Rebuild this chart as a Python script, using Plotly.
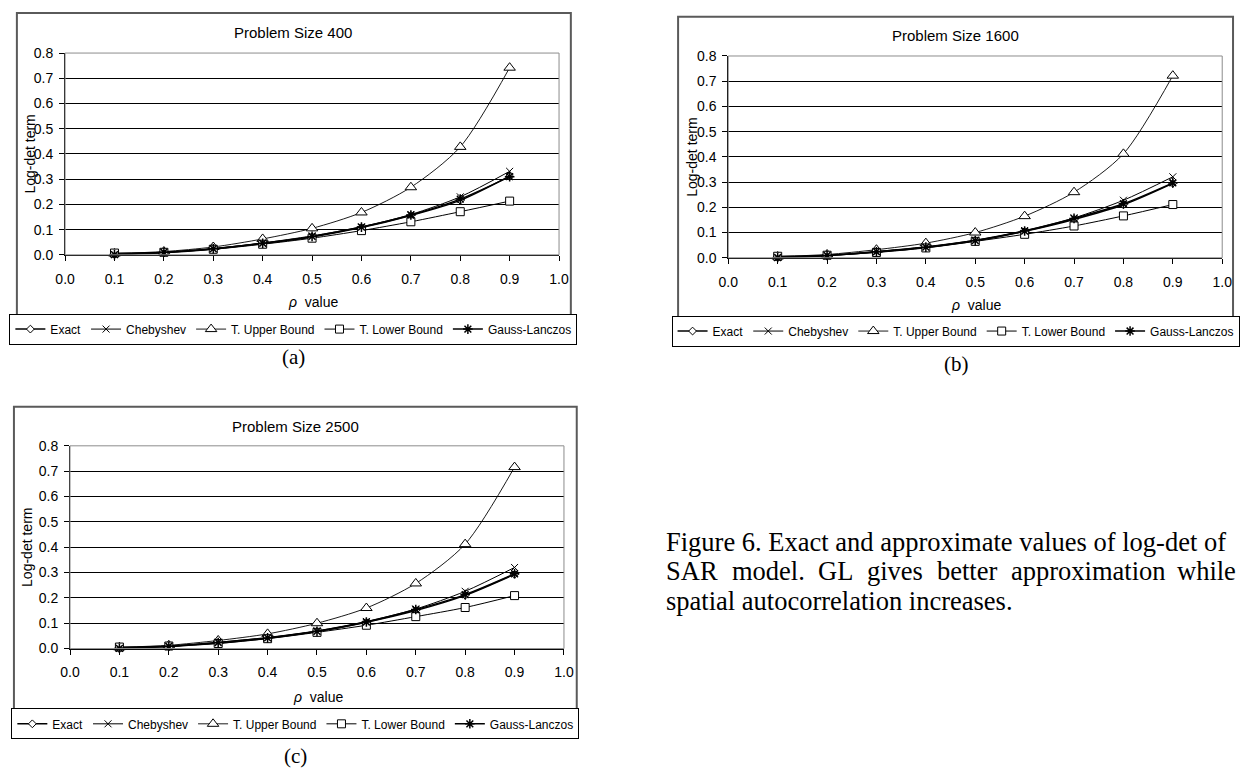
import plotly.graph_objects as go

W, H = 1245, 779

# ---------------- data ----------------
rho = [0.1, 0.2, 0.3, 0.4, 0.5, 0.6, 0.7, 0.8, 0.9]
series_names = ["Exact", "Chebyshev", "T. Upper Bound", "T. Lower Bound", "Gauss-Lanczos"]
panel_titles = ["Problem Size 400", "Problem Size 1600", "Problem Size 2500"]
panel_labels = ["(a)", "(b)", "(c)"]
x_ticks = [0.0, 0.1, 0.2, 0.3, 0.4, 0.5, 0.6, 0.7, 0.8, 0.9, 1.0]
y_ticks = [0.0, 0.1, 0.2, 0.3, 0.4, 0.5, 0.6, 0.7, 0.8]

exact_400 = [0.001, 0.008, 0.023, 0.045, 0.071, 0.108, 0.156, 0.216, 0.312]
cheb_400 = [0.001, 0.010, 0.025, 0.047, 0.075, 0.111, 0.160, 0.230, 0.331]
upper_400 = [0.005, 0.013, 0.031, 0.063, 0.105, 0.168, 0.268, 0.428, 0.742]
lower_400 = [0.007, 0.010, 0.022, 0.042, 0.066, 0.096, 0.131, 0.171, 0.213]
gl_400 = [0.001, 0.010, 0.024, 0.046, 0.073, 0.110, 0.158, 0.221, 0.310]

exact_1600 = [0.001, 0.008, 0.023, 0.041, 0.067, 0.105, 0.152, 0.210, 0.295]
cheb_1600 = [0.001, 0.010, 0.025, 0.044, 0.070, 0.108, 0.158, 0.228, 0.321]
upper_1600 = [0.005, 0.013, 0.032, 0.058, 0.100, 0.165, 0.260, 0.412, 0.722]
lower_1600 = [0.006, 0.010, 0.021, 0.039, 0.065, 0.093, 0.126, 0.166, 0.211]
gl_1600 = [0.001, 0.009, 0.024, 0.042, 0.068, 0.106, 0.156, 0.214, 0.297]

exact_2500 = [0.001, 0.008, 0.022, 0.041, 0.067, 0.104, 0.150, 0.210, 0.293]
cheb_2500 = [0.001, 0.010, 0.025, 0.044, 0.070, 0.107, 0.156, 0.226, 0.320]
upper_2500 = [0.005, 0.013, 0.032, 0.058, 0.100, 0.160, 0.257, 0.412, 0.716]
lower_2500 = [0.006, 0.010, 0.020, 0.039, 0.064, 0.092, 0.126, 0.162, 0.209]
gl_2500 = [0.001, 0.009, 0.024, 0.042, 0.068, 0.105, 0.154, 0.213, 0.295]

panels_data = [
    [exact_400, cheb_400, upper_400, lower_400, gl_400],
    [exact_1600, cheb_1600, upper_1600, lower_1600, gl_1600],
    [exact_2500, cheb_2500, upper_2500, lower_2500, gl_2500],
]

caption_line1 = "Figure 6. Exact and approximate values of log-det of"
caption_line2_words = ["SAR", "model.", "GL", "gives", "better", "approximation", "while"]
caption_line3 = "spatial autocorrelation increases."

# ---------------- styling / layout (pixels) ----------------
SANS = "Liberation Sans, Arial, sans-serif"
SERIF = "Liberation Serif, Times New Roman, serif"

def px(x):
    return x / W

def py(y):
    return 1 - y / H

panels = [
    dict(box=(7, 5, 570, 339), plot=(56, 46, 558, 252), title=(288, 25), ytx=20,
         xt=(308, 300), leg=(288, 312), lab=(288, 356)),
    dict(box=(679, 9, 1243, 341), plot=(730, 49, 1232, 255), title=(961, 28), ytx=693,
         xt=(982, 303), leg=(961, 314), lab=(962, 363)),
    dict(box=(4, 407, 576, 743), plot=(61, 447, 563, 654), title=(290, 427), ytx=17,
         xt=(313, 703), leg=(290, 715), lab=(290, 764)),
]

marker_specs = [
    dict(symbol="diamond", size=6, color="white", line=dict(color="black", width=1)),
    dict(symbol="x-thin", size=7, color="black", line=dict(color="black", width=1)),
    dict(symbol="triangle-up", size=10, color="white", line=dict(color="black", width=1)),
    dict(symbol="square", size=8, color="white", line=dict(color="black", width=1)),
    dict(symbol="asterisk", size=8, color="black", line=dict(color="black", width=1.5)),
]
line_widths = [1.5, 1, 0.9, 1, 1.5]

fig = go.Figure()
shapes = []
annotations = []
layout_axes = {}
legends = {}


def add_text(text, x, y, font, xanchor="center", yanchor="middle", angle=0):
    annotations.append(dict(text=text, x=px(x), y=py(y), xref="paper", yref="paper",
                            xanchor=xanchor, yanchor=yanchor, showarrow=False,
                            textangle=angle, font=font))


for i, (pan, data) in enumerate(zip(panels, panels_data)):
    sfx = "" if i == 0 else str(i + 1)
    xa, ya = "x" + sfx, "y" + sfx
    leg_name = "legend" + sfx
    for j, (name, vals) in enumerate(zip(series_names, data)):
        fig.add_trace(go.Scatter(
            x=rho, y=vals, name=name, mode="lines+markers",
            line=dict(color="black", width=line_widths[j], shape="spline", smoothing=0.8),
            marker=marker_specs[j], xaxis=xa, yaxis=ya, legend=leg_name,
            showlegend=True, cliponaxis=False,
        ))
    l, t, r, b = pan["plot"]
    layout_axes["xaxis" + sfx] = dict(
        domain=[px(l), px(r)], range=[0, 1.0], anchor=ya, tickvals=x_ticks,
        tickformat=".1f", ticks="outside", ticklen=5, tickcolor="black",
        showline=True, linecolor="black", linewidth=1, showgrid=False, zeroline=False,
        tickfont=dict(family=SANS, size=14, color="black"), ticklabelstandoff=6,
    )
    layout_axes["yaxis" + sfx] = dict(
        domain=[py(b), py(t)], range=[0, 0.8], anchor=xa, tickvals=y_ticks,
        tickformat=".1f", ticks="outside", ticklen=5, tickcolor="black",
        showline=True, linecolor="black", linewidth=1, showgrid=True,
        gridcolor="black", gridwidth=1, zeroline=False,
        tickfont=dict(family=SANS, size=14, color="black"), ticklabelstandoff=3,
    )
    shapes.append(dict(type="rect", xref=xa + " domain", yref=ya + " domain",
                       x0=0, x1=1, y0=0, y1=1, line=dict(color="#8c8c8c", width=1),
                       layer="above"))
    bl, bt, br, bb = pan["box"]
    shapes.append(dict(type="rect", xref="paper", yref="paper",
                       x0=px(bl), x1=px(br), y0=py(bb), y1=py(bt),
                       line=dict(color="#5a5a5a", width=2), layer="below"))
    add_text(panel_titles[i], pan["title"][0], pan["title"][1],
             dict(family=SANS, size=15, color="black"))
    add_text("Log-det term", pan["ytx"], (t + b) / 2,
             dict(family=SANS, size=14, color="black"), angle=-90)
    add_text("<i>\u03c1</i>\u00a0\u00a0value", pan["xt"][0], pan["xt"][1],
             dict(family=SANS, size=14, color="black"))
    add_text(panel_labels[i], pan["lab"][0], pan["lab"][1],
             dict(family=SERIF, size=21, color="black"))
    legends[leg_name] = dict(
        orientation="h", x=px(pan["leg"][0]), y=py(pan["leg"][1]), xanchor="center",
        yanchor="top", bordercolor="black", borderwidth=1, bgcolor="white",
        font=dict(family=SANS, size=12, color="black"), itemwidth=30,
        tracegroupgap=0, traceorder="normal",
    )

# caption paragraph (justified look: line 2 words spread)
cap_font = dict(family=SERIF, size=26.5, color="black")
add_text(caption_line1, 665, 545, cap_font, xanchor="left")
word_x = [665, 731.4, 819.2, 869.4, 940.2, 1015.4, 1184.5]
for wx, w in zip(word_x, caption_line2_words):
    add_text(w, wx, 575, cap_font, xanchor="left")
add_text(caption_line3, 665, 605, cap_font, xanchor="left")

fig.update_layout(
    width=W, height=H, margin=dict(l=0, r=0, t=0, b=0),
    paper_bgcolor="white", plot_bgcolor="white",
    shapes=shapes, annotations=annotations,
    **layout_axes, **legends,
)

fig.write_html(
    "out.html",
    config={"displayModeBar": False},
    post_script="document.body.style.margin='0';document.body.style.overflow='hidden';"
                "document.documentElement.style.overflow='hidden';",
)
